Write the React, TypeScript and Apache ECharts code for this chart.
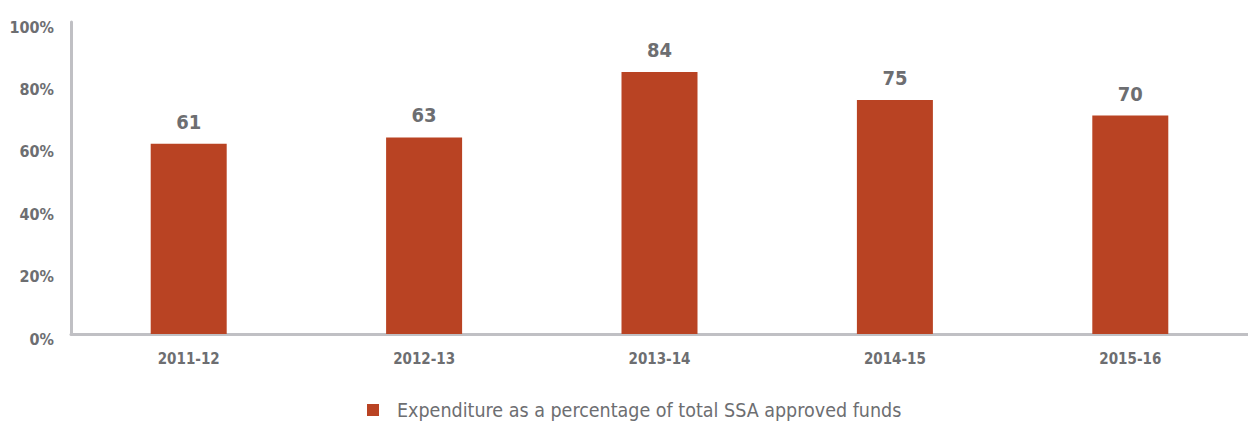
import React, { useEffect, useRef } from "react";
import * as echarts from "echarts";

const categories = ["2011-12", "2012-13", "2013-14", "2014-15", "2015-16"];
const values = [61, 63, 84, 75, 70];
const seriesName = "Expenditure as a percentage of total SSA approved funds";

const FONT = "'DejaVu Sans Condensed', 'Liberation Sans Narrow', sans-serif";
const GREY = "#6d6e71";

export default function App() {
  const ref = useRef<HTMLDivElement>(null);
  useEffect(() => {
    if (!ref.current) return;
    const chart = echarts.init(ref.current, null, { renderer: "svg" });
    chart.setOption({
      animation: false,
      textStyle: { fontFamily: FONT },
      grid: { left: 71, top: 22, width: 1189, height: 312 },
      legend: {
        top: 395,
        left: 362,
        itemWidth: 12,
        itemHeight: 12,
        icon: "rect",
        textStyle: { fontFamily: FONT, fontSize: 19.5, color: GREY, padding: [0, 0, 0, 13] },
        data: [seriesName],
      },
      xAxis: {
        type: "category",
        data: categories,
        axisLine: { lineStyle: { color: "#c0c0c4", width: 3 } },
        axisTick: { show: false },
        axisLabel: { color: GREY, fontSize: 15, fontWeight: "bold", fontFamily: FONT, margin: 17 },
      },
      yAxis: {
        type: "value",
        min: 0,
        max: 100,
        interval: 20,
        axisLine: { show: true, lineStyle: { color: "#c0c0c4", width: 3 } },
        axisTick: { show: false },
        splitLine: { show: false },
        axisLabel: {
          color: GREY,
          fontSize: 16,
          fontWeight: "bold",
          fontFamily: FONT,
          margin: 17,
          verticalAlign: "top",
          lineHeight: 10,
          formatter: "{value}%",
        },
      },
      series: [
        {
          name: seriesName,
          type: "bar",
          data: values,
          barWidth: 76,
          itemStyle: { color: "#b94323" },
          label: {
            show: true,
            position: "top",
            distance: 12,
            color: GREY,
            fontSize: 20,
            fontWeight: "bold",
            fontFamily: FONT,
          },
        },
      ],
    });
    return () => chart.dispose();
  }, []);
  return (
    <div
      ref={ref}
      style={{ position: "absolute", left: 0, top: 0, width: 1248, height: 423 }}
    />
  );
}
